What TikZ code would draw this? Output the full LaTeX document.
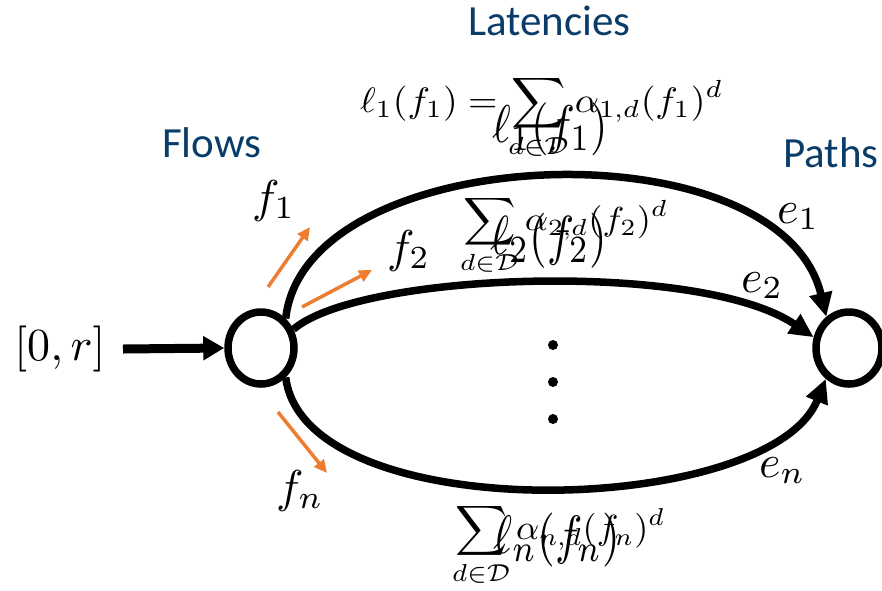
\documentclass[tikz,border=0pt]{standalone}
\usepackage{fontspec}
\usepackage{graphicx}
\newfontfamily\calib{Carlito}
\usetikzlibrary{arrows.meta,shapes.geometric}
\definecolor{titleblue}{HTML}{0A3C69}
\definecolor{flowor}{HTML}{ED7D31}
\newcommand{\mylabmath}[1]{\scalebox{4.6}{$#1$}}
\tikzset{
  vtx/.style={draw, ellipse, line width=7.5pt, minimum width=66pt, minimum height=72pt, inner sep=0pt},
  edge/.style={line width=7.5pt, -{Triangle[length=24pt,width=22pt]}},
  inarrow/.style={line width=9pt, -{Triangle[length=21pt,width=23pt]}},
  flowarrow/.style={flowor, line width=3.5pt, -{Triangle[length=13pt,width=12pt]}},
  lab/.style={inner sep=0pt},
  head/.style={inner sep=0pt, text=titleblue, font=\calib\fontsize{43}{43}\selectfont, anchor=base west},
  formula/.style={inner sep=0pt, anchor=north west},
  dot/.style={circle, fill=black, inner sep=0pt, minimum size=10pt}
}
\begin{document}
\begin{tikzpicture}[x=1pt,y=-1pt]
\useasboundingbox (0,0) rectangle (882,590);
% headings
\node[head] (hlat) at (468,35) {Latencies};
\node[head] (hflow) at (162,157) {Flows};
\node[head] (hpath) at (783,167) {Paths};
% vertices
\node[vtx] (L) at (261,348) {};
\node[vtx] (R) at (849,348) {};
% input
\coordinate (in) at (123,349);
\node[lab, anchor=base] (rng) at (60,360) {\mylabmath{[0,r]}};
\draw[inarrow] (in) -- (L.west);
% paths
\draw[edge] (L.50) .. controls (305,140) and (780,122) .. (R.126);
\draw[edge] (L.30) .. controls (360,272) and (700,260) .. (R.163);
\draw[edge] (L.-50) .. controls (305,530) and (770,518) .. (R.233);
% dots
\node[dot] (d1) at (553,345) {};
\node[dot] (d2) at (553,382) {};
\node[dot] (d3) at (553,419) {};
% flow arrows
\coordinate (a1s) at (268,287); \coordinate (a1e) at (310,227);
\coordinate (a2s) at (302,307); \coordinate (a2e) at (372,270);
\coordinate (ans) at (278,412); \coordinate (ane) at (327,473);
\draw[flowarrow] (a1s) -- (a1e);
\draw[flowarrow] (a2s) -- (a2e);
\draw[flowarrow] (ans) -- (ane);
% labels
\node[lab, anchor=base west] (f1) at (252,212) {\mylabmath{f_1}};
\node[lab, anchor=base west] (f2) at (387,262) {\mylabmath{f_2}};
\node[lab, anchor=base west] (fn) at (276,502) {\mylabmath{f_n}};
\node[lab, anchor=base west] (e1) at (777,223) {\mylabmath{e_1}};
\node[lab, anchor=base west] (e2) at (741,292) {\mylabmath{e_2}};
\node[lab, anchor=base west] (en) at (759,477) {\mylabmath{e_n}};
% latency formulas
\node[formula] (lat1) at (360,75) {\resizebox*{363pt}{85pt}{$\displaystyle\ell_1(f_1)=\sum_{d\in\mathcal{D}}\alpha_{1,d}(f_1)^d$}};
\node[formula] (lat2) at (460,195) {\resizebox*{208pt}{80pt}{$\displaystyle\sum_{d\in\mathcal{D}}\alpha_{2,d}(f_2)^d$}};
\node[formula] (latn) at (452,503) {\resizebox*{213pt}{84pt}{$\displaystyle\sum_{d\in\mathcal{D}}\alpha_{n,d}(f_n)^d$}};
\node[formula] (l1) at (492,103) {\resizebox*{116pt}{53pt}{$\ell_1(f_1)$}};
\node[formula] (l2) at (490,213) {\resizebox*{117pt}{55pt}{$\ell_2(f_2)$}};
\node[formula] (ln) at (493,513) {\resizebox*{127pt}{54pt}{$\ell_n(f_n)$}};
\end{tikzpicture}
\end{document}
